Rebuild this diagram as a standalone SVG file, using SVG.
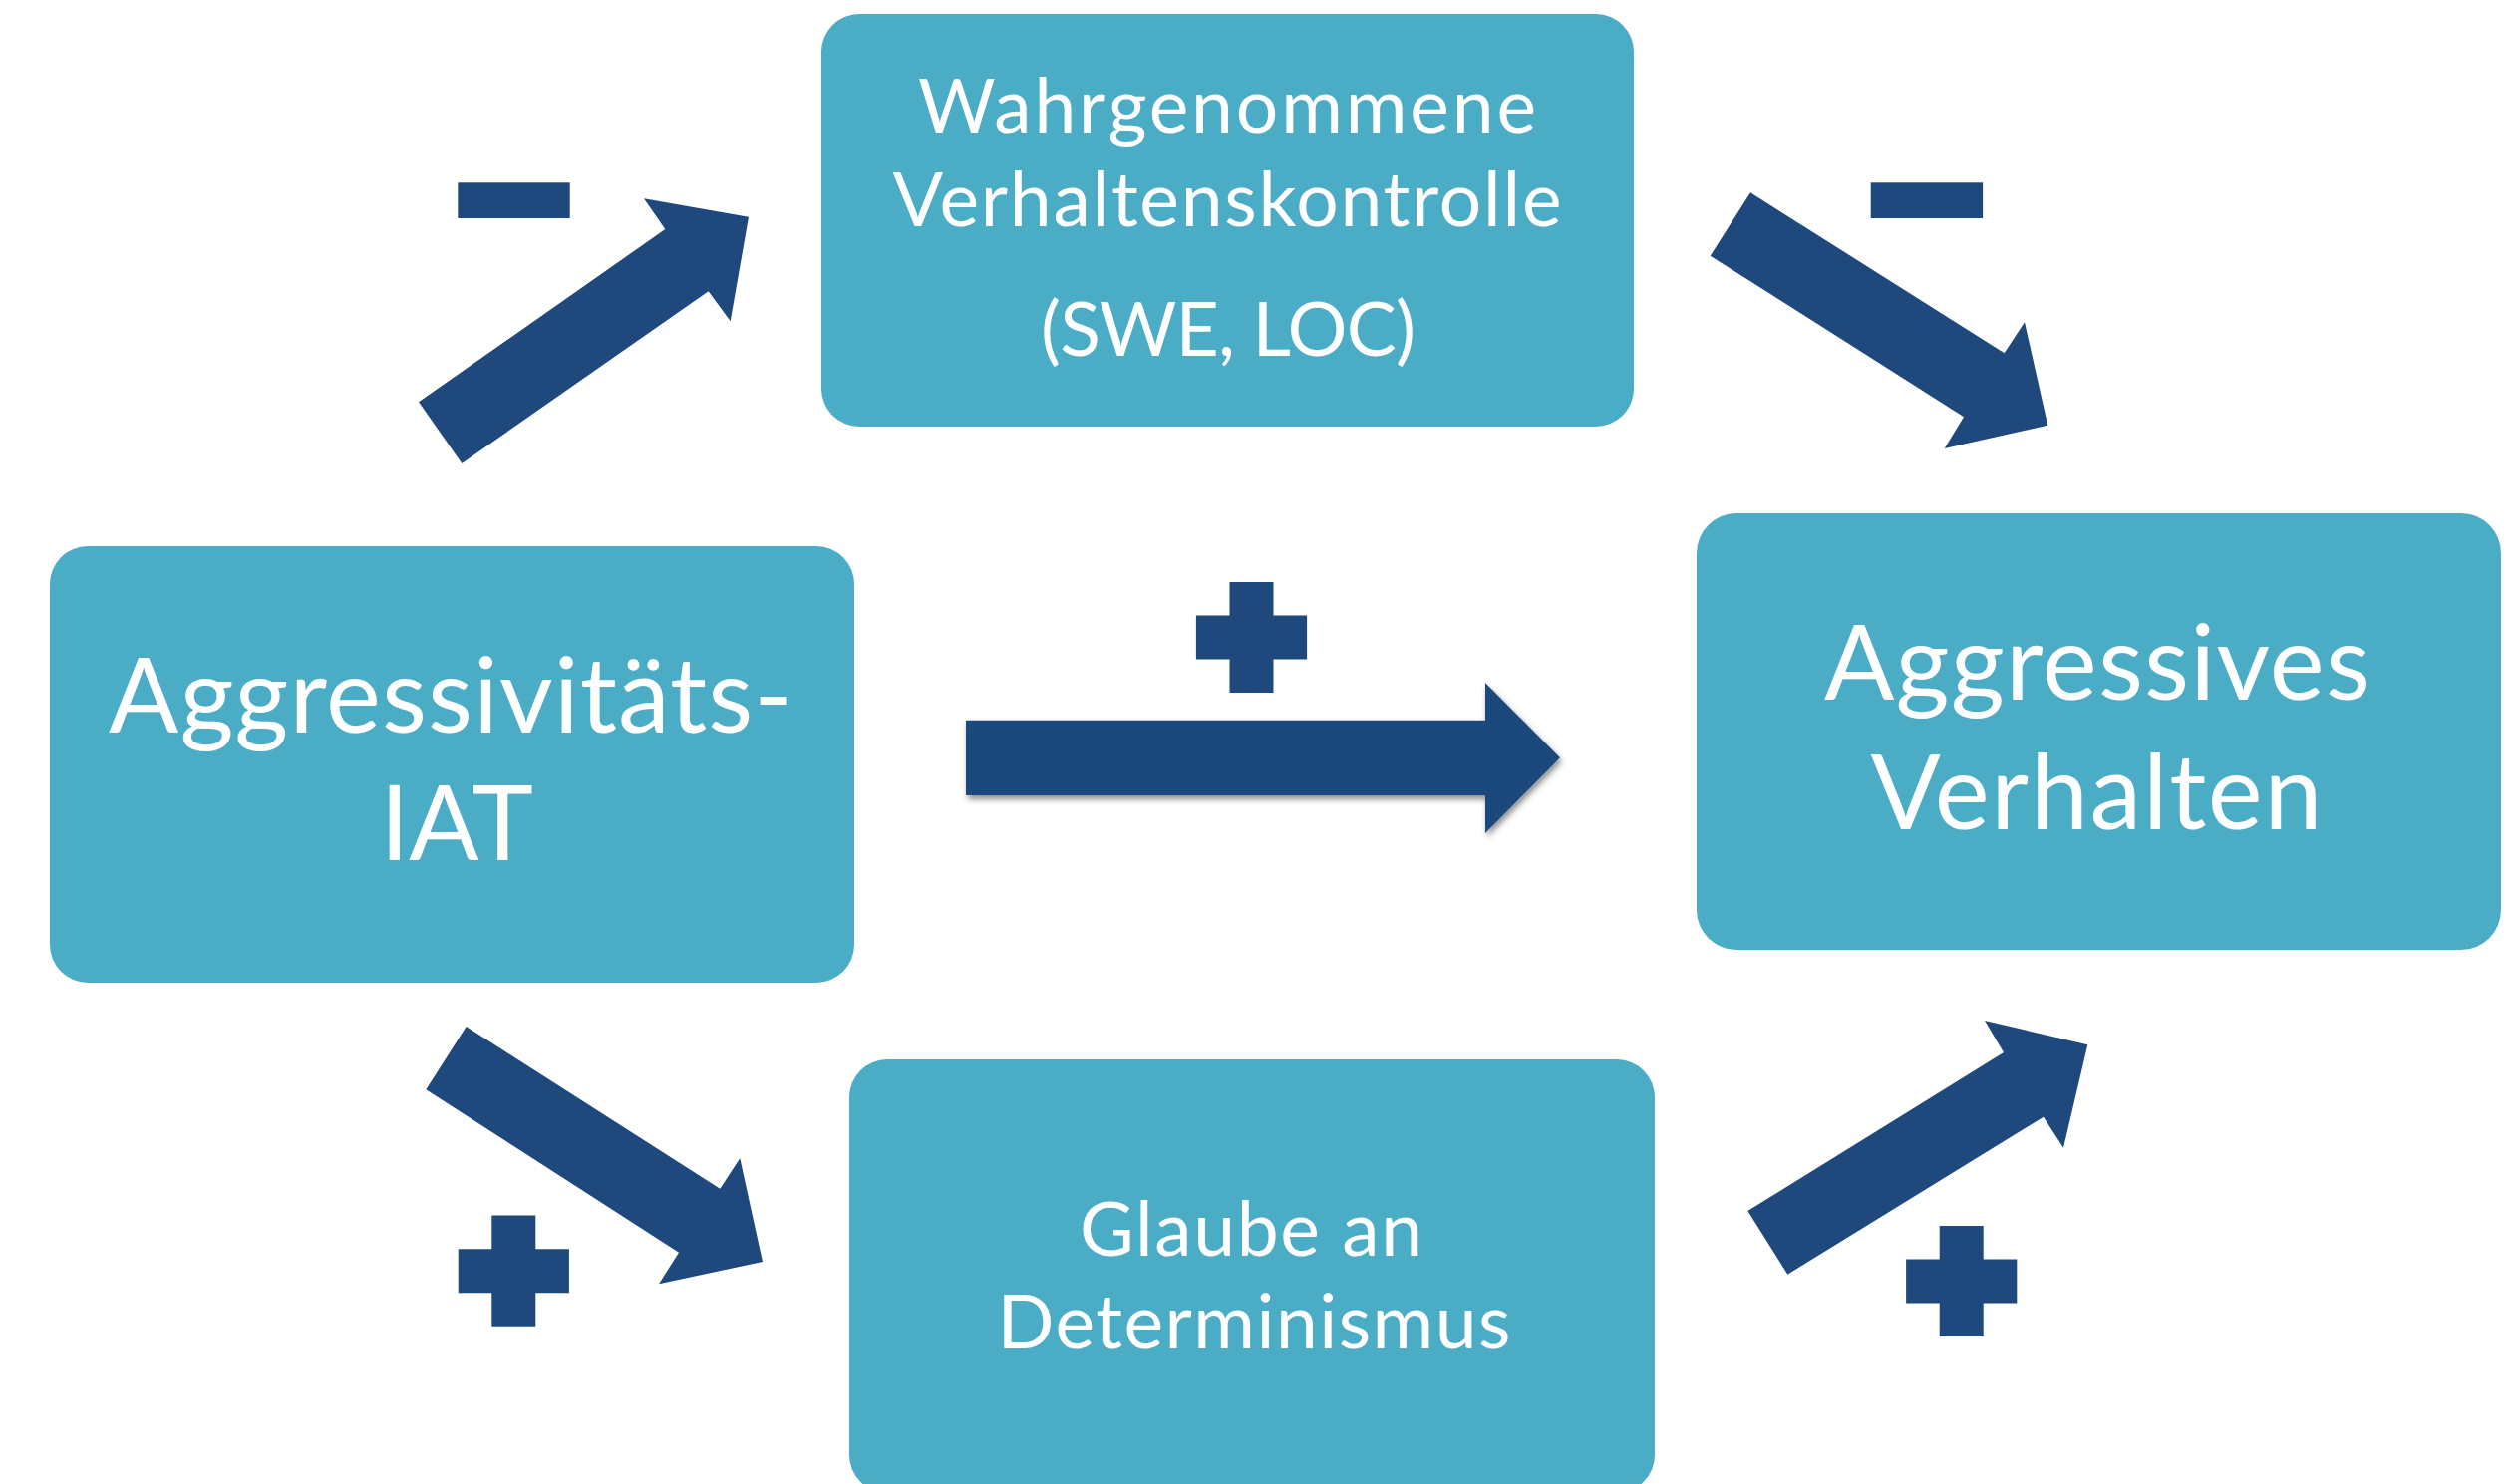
<svg xmlns="http://www.w3.org/2000/svg" width="2528" height="1489" viewBox="0 0 2528 1489">
  <style>
    .box { fill: #4BACC6; }
    .arrow { fill: #1F497D; }
    .sign { fill: #1F497D; }
    .t { font-family: Lato, "Open Sans", "Liberation Sans", sans-serif; fill: #FFFFFF; text-anchor: middle; }
    .small { font-size: 75px; }
    .big { font-size: 104px; }
  </style>
  <defs>
    <filter id="shadow" x="-5%" y="-20%" width="115%" height="150%">
      <feGaussianBlur in="SourceAlpha" stdDeviation="3"/>
      <feOffset dx="2" dy="4" result="b"/>
      <feComponentTransfer><feFuncA type="linear" slope="0.45"/></feComponentTransfer>
      <feMerge><feMergeNode/><feMergeNode in="SourceGraphic"/></feMerge>
    </filter>
    <path id="plus" d="M-22,-55.6 H22 V-22 H55.6 V22 H22 V55.6 H-22 V22 H-55.6 V-22 H-22 Z"/>
    <rect id="minus" x="0" y="0" width="112.4" height="35.7"/>
  </defs>
  <rect width="2528" height="1489" fill="#FFFFFF"/>

  <g id="node-kontrolle">
    <rect class="box" x="824" y="14" width="815" height="414" rx="38" ry="38"/>
    <text class="t small" x="1231" y="133" textLength="620" lengthAdjust="spacing">Wahrgenommene</text>
    <text class="t small" x="1231" y="227" textLength="671" lengthAdjust="spacing">Verhaltenskontrolle</text>
    <text class="t small" x="1232" y="357" textLength="376" lengthAdjust="spacing">(SWE, LOC)</text>
  </g>

  <g id="node-iat">
    <rect class="box" x="50" y="548" width="807" height="438" rx="38" ry="38"/>
    <text class="t big" x="452" y="735" textLength="686" lengthAdjust="spacing">Aggressivitäts-</text>
    <text class="t big" x="458" y="863">IAT</text>
  </g>

  <g id="node-verhalten">
    <rect class="box" x="1702" y="515" width="807" height="438" rx="40" ry="40"/>
    <text class="t big" x="2104" y="702" textLength="548" lengthAdjust="spacing">Aggressives</text>
    <text class="t big" x="2103" y="832" textLength="453" lengthAdjust="spacing">Verhalten</text>
  </g>

  <g id="node-determinismus">
    <rect class="box" x="852" y="1063" width="808" height="435" rx="38" ry="38"/>
    <text class="t small" x="1255" y="1260" textLength="344" lengthAdjust="spacing">Glaube an</text>
    <text class="t small" x="1258" y="1353" textLength="515" lengthAdjust="spacing">Determinismus</text>
  </g>

  <g id="connectors">
    <path class="arrow" d="M420,403.3 L667.3,230 L646,199.3 L751,217.7 L732.7,322.3 L710.7,292.3 L463.3,465 Z"/>
    <path class="arrow" d="M1756,193.3 L2010.7,354.3 L2031,323.3 L2054.3,426.7 L1950.7,450 L1970,418.3 L1715.7,256.7 Z"/>
    <path class="arrow" filter="url(#shadow)" d="M969,722.7 H1490 V685 L1565,760.3 L1490,836 V798 H969 Z"/>
    <path class="arrow" d="M467.7,1030 L722.3,1192.7 L742.3,1162.3 L765,1266 L661,1288.3 L681,1256.7 L427.3,1093.3 Z"/>
    <path class="arrow" d="M1753.3,1215 L2010,1056 L1991,1024 L2094.3,1048.3 L2070,1151.7 L2050,1120.7 L1793.3,1278.7 Z"/>
  </g>

  <g id="signs">
    <use href="#minus" class="sign" x="459.3" y="183.3"/>
    <use href="#minus" class="sign" x="1876.7" y="183.3"/>
    <use href="#plus" class="sign" x="1255.5" y="639.5"/>
    <use href="#plus" class="sign" x="515.3" y="1275.2"/>
    <use href="#plus" class="sign" x="1967.7" y="1285.5"/>
  </g>
</svg>
